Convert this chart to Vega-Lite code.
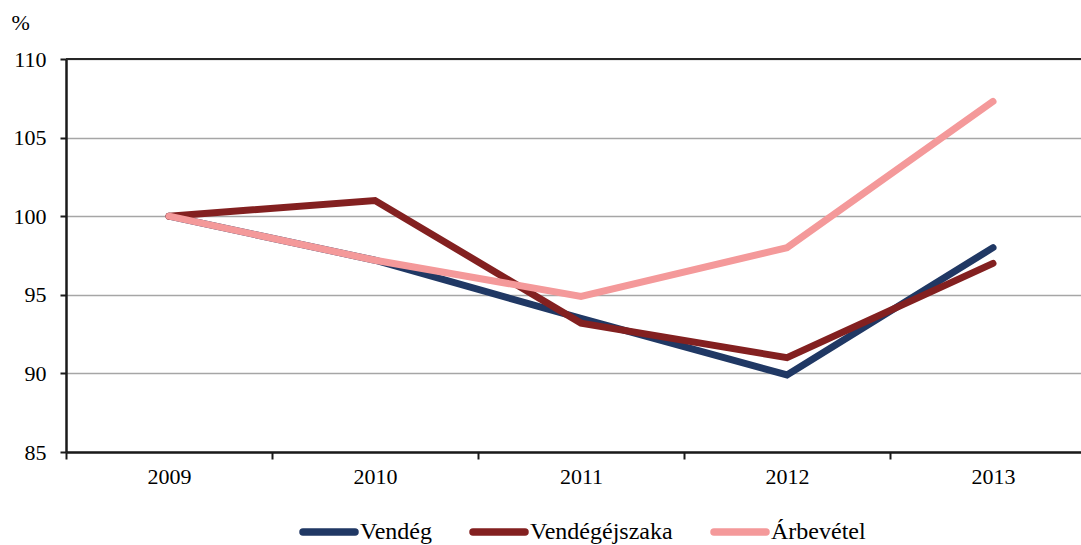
{
  "$schema": "https://vega.github.io/schema/vega-lite/v6.json",
  "autosize": {"type": "none"},
  "width": 1015,
  "height": 393,
  "padding": {"left": 66, "top": 59, "right": 0, "bottom": 93},
  "background": "white",
  "config": {
    "view": {"stroke": null},
    "font": "Liberation Serif"
  },
  "data": {
    "values": [
      {"year": "2009", "series": "Vendég", "value": 100},
      {"year": "2010", "series": "Vendég", "value": 97.2},
      {"year": "2011", "series": "Vendég", "value": 93.5},
      {"year": "2012", "series": "Vendég", "value": 89.9},
      {"year": "2013", "series": "Vendég", "value": 98.0},
      {"year": "2009", "series": "Vendégéjszaka", "value": 100},
      {"year": "2010", "series": "Vendégéjszaka", "value": 101.0},
      {"year": "2011", "series": "Vendégéjszaka", "value": 93.2},
      {"year": "2012", "series": "Vendégéjszaka", "value": 91.0},
      {"year": "2013", "series": "Vendégéjszaka", "value": 97.0},
      {"year": "2009", "series": "Árbevétel", "value": 100},
      {"year": "2010", "series": "Árbevétel", "value": 97.2},
      {"year": "2011", "series": "Árbevétel", "value": 94.9},
      {"year": "2012", "series": "Árbevétel", "value": 98.0},
      {"year": "2013", "series": "Árbevétel", "value": 107.3}
    ]
  },
  "layer": [
    {
      "mark": {"type": "rule", "color": "#262626", "strokeWidth": 2},
      "data": {"values": [{"top": 110}]},
      "encoding": {"y": {"field": "top", "type": "quantitative", "scale": {"domain": [85, 110]}}}
    },
    {
      "mark": {"type": "line", "strokeWidth": 7, "strokeCap": "round", "strokeJoin": "miter"},
      "encoding": {
        "x": {
          "field": "year", "type": "ordinal",
          "scale": {"type": "band", "paddingInner": 0, "paddingOuter": 0, "range": [0, 1030]},
          "axis": {"title": null, "labelAngle": 0, "labelFont": "Liberation Serif", "labelFontSize": 22, "labelColor": "#000000", "domainColor": "#1a1a1a", "domainWidth": 2.5, "tickColor": "#1a1a1a", "tickWidth": 2, "tickSize": 7, "tickBand": "extent", "labelPadding": 7, "grid": false}
        },
        "y": {
          "field": "value", "type": "quantitative",
          "scale": {"domain": [85, 110], "nice": false, "zero": false},
          "axis": {"values": [85, 90, 95, 100, 105, 110], "title": "%", "titleAngle": 0, "titleX": -55, "titleY": -37, "titleAlign": "left", "titleBaseline": "middle", "titleFont": "Liberation Serif", "titleFontSize": 22, "titleFontWeight": "normal", "titleColor": "#000000", "labelFont": "Liberation Serif", "labelFontSize": 22, "labelColor": "#000000", "domainColor": "#1a1a1a", "domainWidth": 2.5, "tickColor": "#1a1a1a", "tickWidth": 2, "tickSize": 6, "labelPadding": 14, "grid": true, "gridColor": "#a6a6a6", "gridWidth": 1.5}
        },
        "color": {
          "field": "series", "type": "nominal",
          "scale": {"domain": ["Vendég", "Vendégéjszaka", "Árbevétel"], "range": ["#203864", "#832020", "#F4999A"]},
          "legend": {
            "title": null, "orient": "none", "direction": "horizontal",
            "legendX": 233, "legendY": 443,
            "symbolType": "stroke", "symbolSize": 2700, "symbolStrokeWidth": 7.5,
            "labelFont": "Liberation Serif", "labelFontSize": 24, "labelColor": "#000000", "labelOffset": 1, "columnPadding": 26,
            "encode": {"symbols": {"update": {"strokeCap": {"value": "round"}}}}
          }
        }
      }
    }
  ]
}
